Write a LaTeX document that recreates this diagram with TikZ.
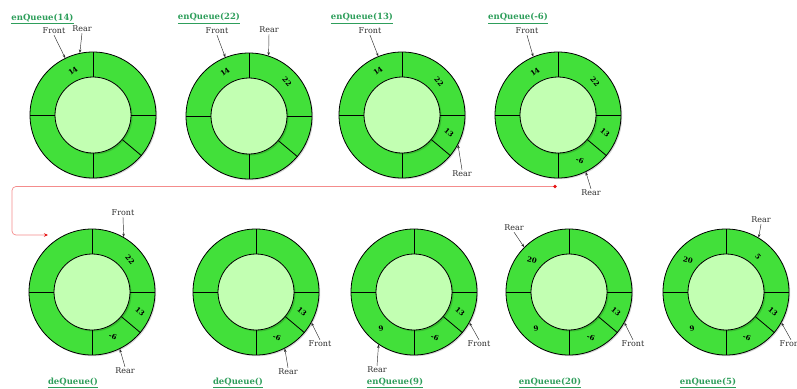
\documentclass[tikz,border=0pt]{standalone}
\usepackage{fontspec}
\setmainfont{DejaVu Serif}
\usetikzlibrary{calc,arrows.meta}
\definecolor{ringgreen}{RGB}{66,224,58}
\definecolor{innergreen}{RGB}{194,255,178}
\definecolor{titlegreen}{RGB}{46,158,91}
\definecolor{labelgray}{RGB}{45,45,45}
\definecolor{redline}{RGB}{244,140,140}
\definecolor{reddot}{RGB}{230,20,20}
\tikzset{
  outerring/.style={circle, draw=black, line width=0.8pt, fill=ringgreen, minimum size=126pt, inner sep=0pt},
  innerring/.style={circle, draw=black, line width=0.8pt, fill=innergreen, minimum size=76pt, inner sep=0pt},
  shadowc/.style={circle, fill=black, opacity=0.16, inner sep=0pt},
  divider/.style={line width=0.8pt},
  val/.style={font=\fontsize{7}{8}\selectfont\bfseries, inner sep=0pt},
  ptr/.style={font=\fontsize{8}{9}\selectfont, text=labelgray, inner sep=1pt},
  ptrarrow/.style={-{Stealth[length=3.5pt,width=2.6pt]}, line width=0.45pt, draw=labelgray},
  optitle/.style={font=\fontsize{8.5}{9}\selectfont\bfseries, text=titlegreen, inner sep=1pt},
  redconn/.style={draw=redline, line width=0.7pt, rounded corners=4pt, -{Stealth[length=4pt,width=3.5pt,reddot]}},
}
\newcommand\qring[3]{%
  \node[shadowc, minimum size=126pt] (#1s) at (#2+1.2,#3+1.2) {};
  \node[outerring] (#1) at (#2,#3) {};
  \node[shadowc, minimum size=76pt] (#1is) at (#2+1.5,#3+1.5) {};
  \node[innerring] (#1i) at (#2,#3) {};
  \foreach \a in {0,90,180,270,320} \draw[divider] (#1i.\a) -- (#1.\a);
}
\begin{document}
\begin{tikzpicture}[x=1pt,y=-1pt]
\useasboundingbox (0,0) rectangle (797,388);
% rings
\qring{r1}{93}{115}
\qring{r2}{249}{116}
\qring{r3}{402}{115}
\qring{r4}{558}{115}
\qring{r5}{92}{292}
\qring{r6}{256}{292}
\qring{r7}{414}{292}
\qring{r8}{569}{292}
\qring{r9}{726}{292}
% values
\node[val, rotate=35] (v1a) at (73,71) {14};
\node[val, rotate=35] (v2a) at (225,72) {14};
\node[val, rotate=-50] (v2b) at (287,82) {22};
\node[val, rotate=35] (v3a) at (378,71) {14};
\node[val, rotate=-50] (v3b) at (439,82) {22};
\node[val, rotate=-40] (v3c) at (449,133) {13};
\node[val, rotate=35] (v4a) at (535,72) {14};
\node[val, rotate=-50] (v4b) at (595,82) {22};
\node[val, rotate=-40] (v4c) at (605,133) {13};
\node[val, rotate=-20] (v4d) at (580,160) {-6};
\node[val, rotate=-50] (v5b) at (130,260) {22};
\node[val, rotate=-40] (v5c) at (140,312) {13};
\node[val, rotate=-20] (v5d) at (113,336) {-6};
\node[val, rotate=-40] (v6c) at (302,312) {13};
\node[val, rotate=-20] (v6d) at (277,337) {-6};
\node[val, rotate=-40] (v7c) at (460,312) {13};
\node[val, rotate=-20] (v7d) at (435,337) {-6};
\node[val, rotate=10] (v7e) at (381,329) {9};
\node[val, rotate=-15] (v8a) at (532,260) {20};
\node[val, rotate=-40] (v8c) at (616,312) {13};
\node[val, rotate=-20] (v8d) at (591,337) {-6};
\node[val, rotate=10] (v8e) at (536,329) {9};
\node[val, rotate=-15] (v9a) at (688,260) {20};
\node[val, rotate=-50] (v9b) at (758,257) {5};
\node[val, rotate=-40] (v9c) at (773,312) {13};
\node[val, rotate=-20] (v9d) at (747,337) {-6};
\node[val, rotate=10] (v9e) at (692,329) {9};
% titles
\node[optitle] (t1) at (42.5,19) {\underline{enQueue(14)}};
\node[optitle] (t2) at (209,18.5) {\underline{enQueue(22)}};
\node[optitle] (t3) at (362,18.5) {\underline{enQueue(13)}};
\node[optitle] (t4) at (518,18.5) {\underline{enQueue(-6)}};
\node[optitle] (t5) at (73,383) {\underline{deQueue()}};
\node[optitle] (t6) at (238,383) {\underline{deQueue()}};
\node[optitle] (t7) at (395,383) {\underline{enQueue(9)}};
\node[optitle] (t8) at (550,383) {\underline{enQueue(20)}};
\node[optitle] (t9) at (708,383) {\underline{enQueue(5)}};
% front / rear pointers
\node[ptr] (fr1) at (54,31) {Front};
\node[ptr] (re1) at (82,29) {Rear};
\draw[ptrarrow] (fr1.south) -- (r1.116);
\draw[ptrarrow] (re1.south) -- (r1.102);
\node[ptr] (fr2) at (217,31) {Front};
\node[ptr] (re2) at (269,30) {Rear};
\draw[ptrarrow] (fr2.south) -- (r2.112);
\draw[ptrarrow] (re2.south) -- (r2.72);
\node[ptr] (fr3) at (370,31) {Front};
\node[ptr] (re3) at (462,174) {Rear};
\draw[ptrarrow] (fr3.south) -- (r3.112);
\draw[ptrarrow] (re3.north) -- (r3.332);
\node[ptr] (fr4) at (527,31) {Front};
\node[ptr] (re4) at (591,193) {Rear};
\draw[ptrarrow] (fr4.south) -- (r4.113);
\draw[ptrarrow] (re4.north) -- (r4.296);
\node[ptr] (fr5) at (123,213) {Front};
\node[ptr] (re5) at (125,371) {Rear};
\draw[ptrarrow] (fr5.south) -- (r5.60);
\draw[ptrarrow] (re5.north) -- (r5.296);
\node[ptr] (fr6) at (320,344) {Front};
\node[ptr] (re6) at (288,372) {Rear};
\draw[ptrarrow] (fr6.north) -- (r6.331);
\draw[ptrarrow] (re6.north) -- (r6.297);
\node[ptr] (fr7) at (479,344) {Front};
\node[ptr] (re7) at (377,370) {Rear};
\draw[ptrarrow] (fr7.north) -- (r7.331);
\draw[ptrarrow] (re7.north) -- (r7.236);
\node[ptr] (re8) at (514,228) {Rear};
\node[ptr] (fr8) at (633,344) {Front};
\draw[ptrarrow] (re8.south) -- (r8.135);
\draw[ptrarrow] (fr8.north) -- (r8.331);
\node[ptr] (re9) at (761,220) {Rear};
\node[ptr] (fr9) at (791,344) {Front};
\draw[ptrarrow] (re9.south) -- (r9.59);
\draw[ptrarrow] (fr9.north) -- (r9.331);
% red connector between rows
\coordinate (rs) at (555,186.5);
\coordinate (rend) at (48,235);
\draw[redconn] (rs) -- (12,186.5) -- (12,235) -- (rend);
\fill[reddot] (rs) circle (1.8pt);
\end{tikzpicture}
\end{document}
